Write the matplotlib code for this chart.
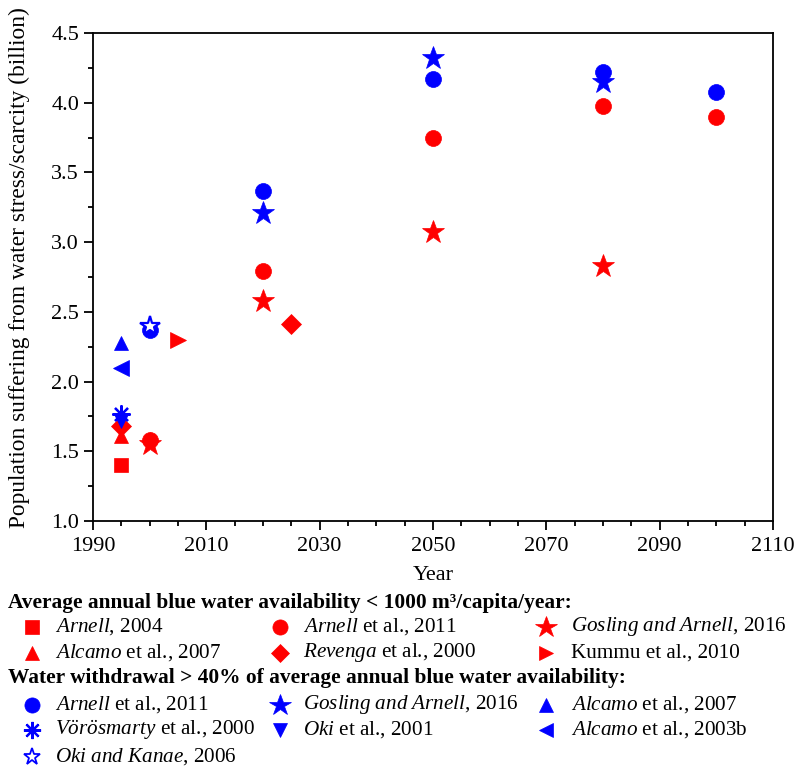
import numpy as np
import matplotlib
matplotlib.use('Agg')
import matplotlib.pyplot as plt
from matplotlib.lines import Line2D
from matplotlib.ticker import MultipleLocator, FormatStrFormatter

plt.rcParams['font.family'] = ['Liberation Serif', 'DejaVu Serif']
plt.rcParams['mathtext.fontset'] = 'custom'
plt.rcParams['mathtext.it'] = 'Liberation Serif:italic'
plt.rcParams['mathtext.rm'] = 'Liberation Serif'

RED = '#ff0000'
BLUE = '#0000ff'

# availability < 1000 m3/capita/year (red)
r_arnell04_yr, r_arnell04 = [1995], [1.40]
r_arnell11_yr, r_arnell11 = [2000, 2020, 2050, 2080, 2100], [1.58, 2.79, 3.75, 3.98, 3.90]
r_gosling_yr, r_gosling = [2000, 2020, 2050, 2080], [1.55, 2.58, 3.07, 2.83]
r_alcamo07_yr, r_alcamo07 = [1995], [1.61]
r_revenga_yr, r_revenga = [1995, 2025], [1.68, 2.41]
r_kummu_yr, r_kummu = [2005], [2.30]

# withdrawal > 40% of availability (blue)
b_arnell11_yr, b_arnell11 = [2000, 2020, 2050, 2080, 2100], [2.37, 3.37, 4.17, 4.22, 4.08]
b_gosling_yr, b_gosling = [2020, 2050, 2080], [3.21, 4.32, 4.15]
b_alcamo07_yr, b_alcamo07 = [1995], [2.28]
b_voro_yr, b_voro = [1995], [1.77]
b_oki01_yr, b_oki01 = [1995], [1.72]
b_alcamo03_yr, b_alcamo03 = [1995], [2.10]
b_okikanae_yr, b_okikanae = [2000], [2.40]

year_ticks = [1990, 2010, 2030, 2050, 2070, 2090, 2110]

W, H = 800, 771
fig = plt.figure(figsize=(8, 7.71), dpi=100)
ax = fig.add_axes([93 / W, 1 - 521 / H, 680 / W, 488 / H])

ASTER = (8, 2, 0)
# (x, y, marker, color, size, label, filled)
series = [
    (r_arnell04_yr, r_arnell04, 's', RED, 10, r'$\mathit{Arnell}$, 2004', True),
    (r_arnell11_yr, r_arnell11, 'o', RED, 11.5, r'$\mathit{Arnell}$ et al., 2011', True),
    (r_gosling_yr, r_gosling, '*', RED, 17, r'$\mathit{Gosling\ and\ Arnell}$, 2016', True),
    (r_alcamo07_yr, r_alcamo07, '^', RED, 10, r'$\mathit{Alcamo}$ et al., 2007', True),
    (r_revenga_yr, r_revenga, 'D', RED, 10, r'$\mathit{Revenga}$ et al., 2000', True),
    (r_kummu_yr, r_kummu, '>', RED, 11, 'Kummu et al., 2010', True),
    (b_arnell11_yr, b_arnell11, 'o', BLUE, 11.5, r'$\mathit{Arnell}$ et al., 2011', True),
    (b_gosling_yr, b_gosling, '*', BLUE, 17, r'$\mathit{Gosling\ and\ Arnell}$, 2016', True),
    (b_alcamo07_yr, b_alcamo07, '^', BLUE, 10, r'$\mathit{Alcamo}$ et al., 2007', True),
    (b_voro_yr, b_voro, ASTER, BLUE, 13, r'$\mathit{V\ddot{o}r\ddot{o}smarty}$ et al., 2000', True),
    (b_oki01_yr, b_oki01, 'v', BLUE, 10, r'$\mathit{Oki}$ et al., 2001', True),
    (b_alcamo03_yr, b_alcamo03, '<', BLUE, 11, r'$\mathit{Alcamo}$ et al., 2003b', True),
    (b_okikanae_yr, b_okikanae, '*', BLUE, 15, r'$\mathit{Oki\ and\ Kanae}$, 2006', False),
]


def edge_w(m, filled):
    return 1.6 if (not filled or isinstance(m, tuple)) else 0.5


for xs, ys, m, c, s, lab, filled in series:
    ax.plot(xs, ys, linestyle='none', marker=m, markersize=s,
            markerfacecolor=c if filled else 'white', markeredgecolor=c,
            markeredgewidth=edge_w(m, filled))

ax.set_xlim(1990, 2110)
ax.set_ylim(1.0, 4.5)
ax.set_xticks(year_ticks)
ax.xaxis.set_minor_locator(MultipleLocator(5))
ax.yaxis.set_major_locator(MultipleLocator(0.5))
ax.yaxis.set_minor_locator(MultipleLocator(0.25))
ax.yaxis.set_major_formatter(FormatStrFormatter('%.1f'))
ax.tick_params(which='major', direction='out', length=6.5, width=1.3, labelsize=16)
ax.tick_params(axis='x', which='major', pad=5)
ax.tick_params(which='minor', direction='out', length=3.5, width=1.3)
ax.tick_params(top=False, right=False, which='both')
for sp in ax.spines.values():
    sp.set_linewidth(1.3)
ax.set_xlabel('Year', fontsize=16, labelpad=7)
ax.set_ylabel('Population suffering from water stress/scarcity (billion)', fontsize=16.8)
ax.yaxis.set_label_coords(-0.092, 0.52)


def fx(x):
    return x / W


def fy(y):
    return 1 - y / H


# custom legend below the plot
fig.text(fx(8), fy(603), 'Average annual blue water availability < 1000 m³/capita/year:',
         fontsize=15.4, fontweight='bold', va='center')
fig.text(fx(8), fy(678), 'Water withdrawal > 40% of average annual blue water availability:',
         fontsize=15.4, fontweight='bold', va='center')

col_m = [32, 280, 546]
col_t = [55, 303, 571]
rows = [627, 653, 705, 730, 757]
for i, (xs, ys, m, c, s, lab, filled) in enumerate(series):
    if i < 6:
        r, col = divmod(i, 3)
    else:
        r, col = divmod(i - 6, 3)
        r += 2
    y = rows[r]
    if m == '*':
        ls = s * 0.95 if filled else s * 0.85
    else:
        ls = s * 0.95
    fig.add_artist(Line2D([fx(col_m[col])], [fy(y)], transform=fig.transFigure,
                          linestyle='none', marker=m, markersize=ls,
                          markerfacecolor=c if filled else 'white', markeredgecolor=c,
                          markeredgewidth=edge_w(m, filled) * (0.8 if not filled else 1)))
    fig.text(fx(col_t[col]), fy(y), lab, fontsize=15.2, va='center')

fig.savefig('out.png', dpi=100)
